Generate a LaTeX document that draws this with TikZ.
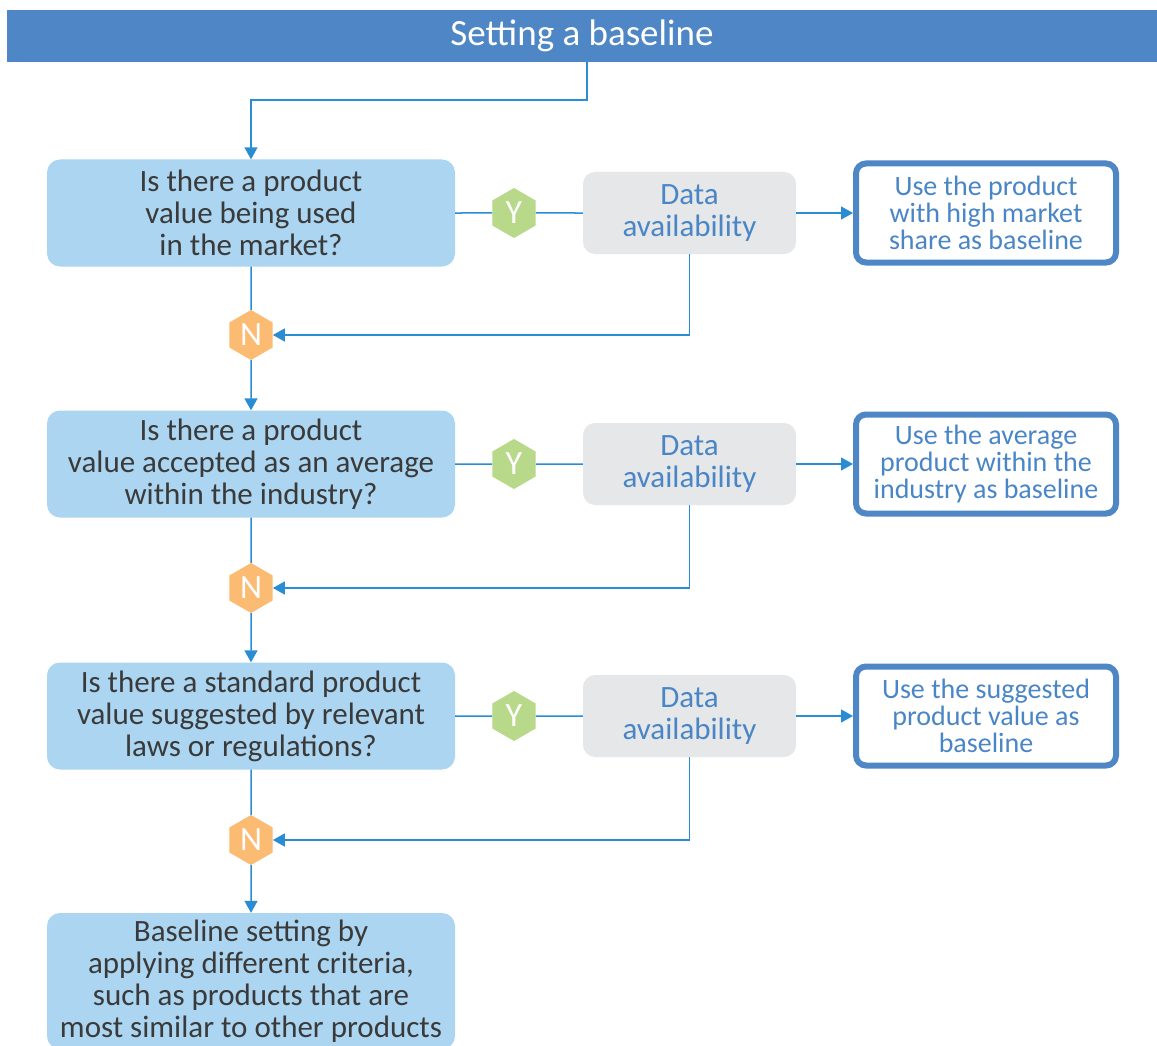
\documentclass[tikz,border=0pt]{standalone}
\usepackage{fontspec}
\setmainfont{Carlito}
\usepackage{tikz}
\usetikzlibrary{arrows.meta, shapes.geometric}
\definecolor{barblue}{HTML}{4F87C6}
\definecolor{qfill}{HTML}{ABD5F0}
\definecolor{qtext}{HTML}{3A3A3A}
\definecolor{dfill}{HTML}{E6E7E8}
\definecolor{dtext}{HTML}{4A86C6}
\definecolor{yesgreen}{HTML}{B8D98A}
\definecolor{noorange}{HTML}{FCBB72}
\definecolor{linkblue}{HTML}{2A8DD4}

\tikzset{
  question/.style={fill=qfill, rounded corners=13pt, minimum width=408, minimum height=107,
    text=qtext, align=center, inner sep=0pt, font=\fontsize{31}{32}\selectfont},
  avail/.style={fill=dfill, rounded corners=12pt, minimum width=213, minimum height=82,
    text=dtext, align=center, inner sep=0pt, font=\fontsize{31}{32}\selectfont},
  result/.style={draw=barblue, line width=6pt, fill=white, rounded corners=10pt,
    minimum width=260, minimum height=99, text=dtext, align=center, inner sep=0pt,
    font=\fontsize{28}{27}\selectfont},
  hexa/.style={regular polygon, regular polygon sides=6, shape border rotate=30,
    minimum size=50, inner sep=0pt, text=white, font=\fontsize{34}{34}\selectfont},
  yes/.style={hexa, fill=yesgreen},
  no/.style={hexa, fill=noorange},
  link/.style={draw=linkblue, line width=1.5pt},
  arrow/.style={link, -{Triangle[length=12pt, width=13pt]}}
}

\begin{document}
\begin{tikzpicture}[x=1pt, y=-1pt]
\useasboundingbox[fill=white] (0,0) rectangle (1157,1046);

\node[fill=barblue, minimum width=1150, minimum height=52, inner sep=0pt, text=white,
  font=\fontsize{37}{37}\selectfont] (bar) at (582,36) {Setting a baseline};
\coordinate (tap) at (587,62);

% questions
\node[question] (q1) at (251,213) {Is there a product\\value being used\\in the market?};
\node[question] (q2) at (251,464) {Is there a product\\value accepted as an average\\within the industry?};
\node[question] (q3) at (251,716) {Is there a standard product\\value suggested by relevant\\laws or regulations?};
\node[question, minimum height=136] (q4) at (251,981) {Baseline setting by\\applying different criteria,\\such as products that are\\most similar to other products};

% yes branch
\node[yes] (y1) at (514,213) {Y};
\node[yes] (y2) at (514,464) {Y};
\node[yes] (y3) at (514,716) {Y};
\node[avail] (d1) at (689.5,213) {Data\\availability};
\node[avail] (d2) at (689.5,464) {Data\\availability};
\node[avail] (d3) at (689.5,716) {Data\\availability};
\node[result] (r1) at (986,213) {Use the product\\with high market\\share as baseline};
\node[result] (r2) at (986,464) {Use the average\\product within the\\industry as baseline};
\node[result] (r3) at (986,716) {Use the suggested\\product value as\\baseline};

% no branch
\node[no] (n1) at (251,335) {N};
\node[no] (n2) at (251,588) {N};
\node[no] (n3) at (251,840) {N};

\draw[arrow] (tap) -- ++(0,38) -| (q1.north);
\foreach \i/\j in {1/2, 2/3, 3/4} {
  \draw[link] (q\i.east) -- (y\i.west);
  \draw[link] (y\i.east) -- (d\i.west);
  \draw[arrow] (d\i.east) -- (r\i.west);
  \draw[arrow] (d\i.south) |- (n\i.east);
  \draw[link] (q\i.south) -- (n\i.north);
  \draw[arrow] (n\i.south) -- (q\j.north);
}
\end{tikzpicture}
\end{document}
